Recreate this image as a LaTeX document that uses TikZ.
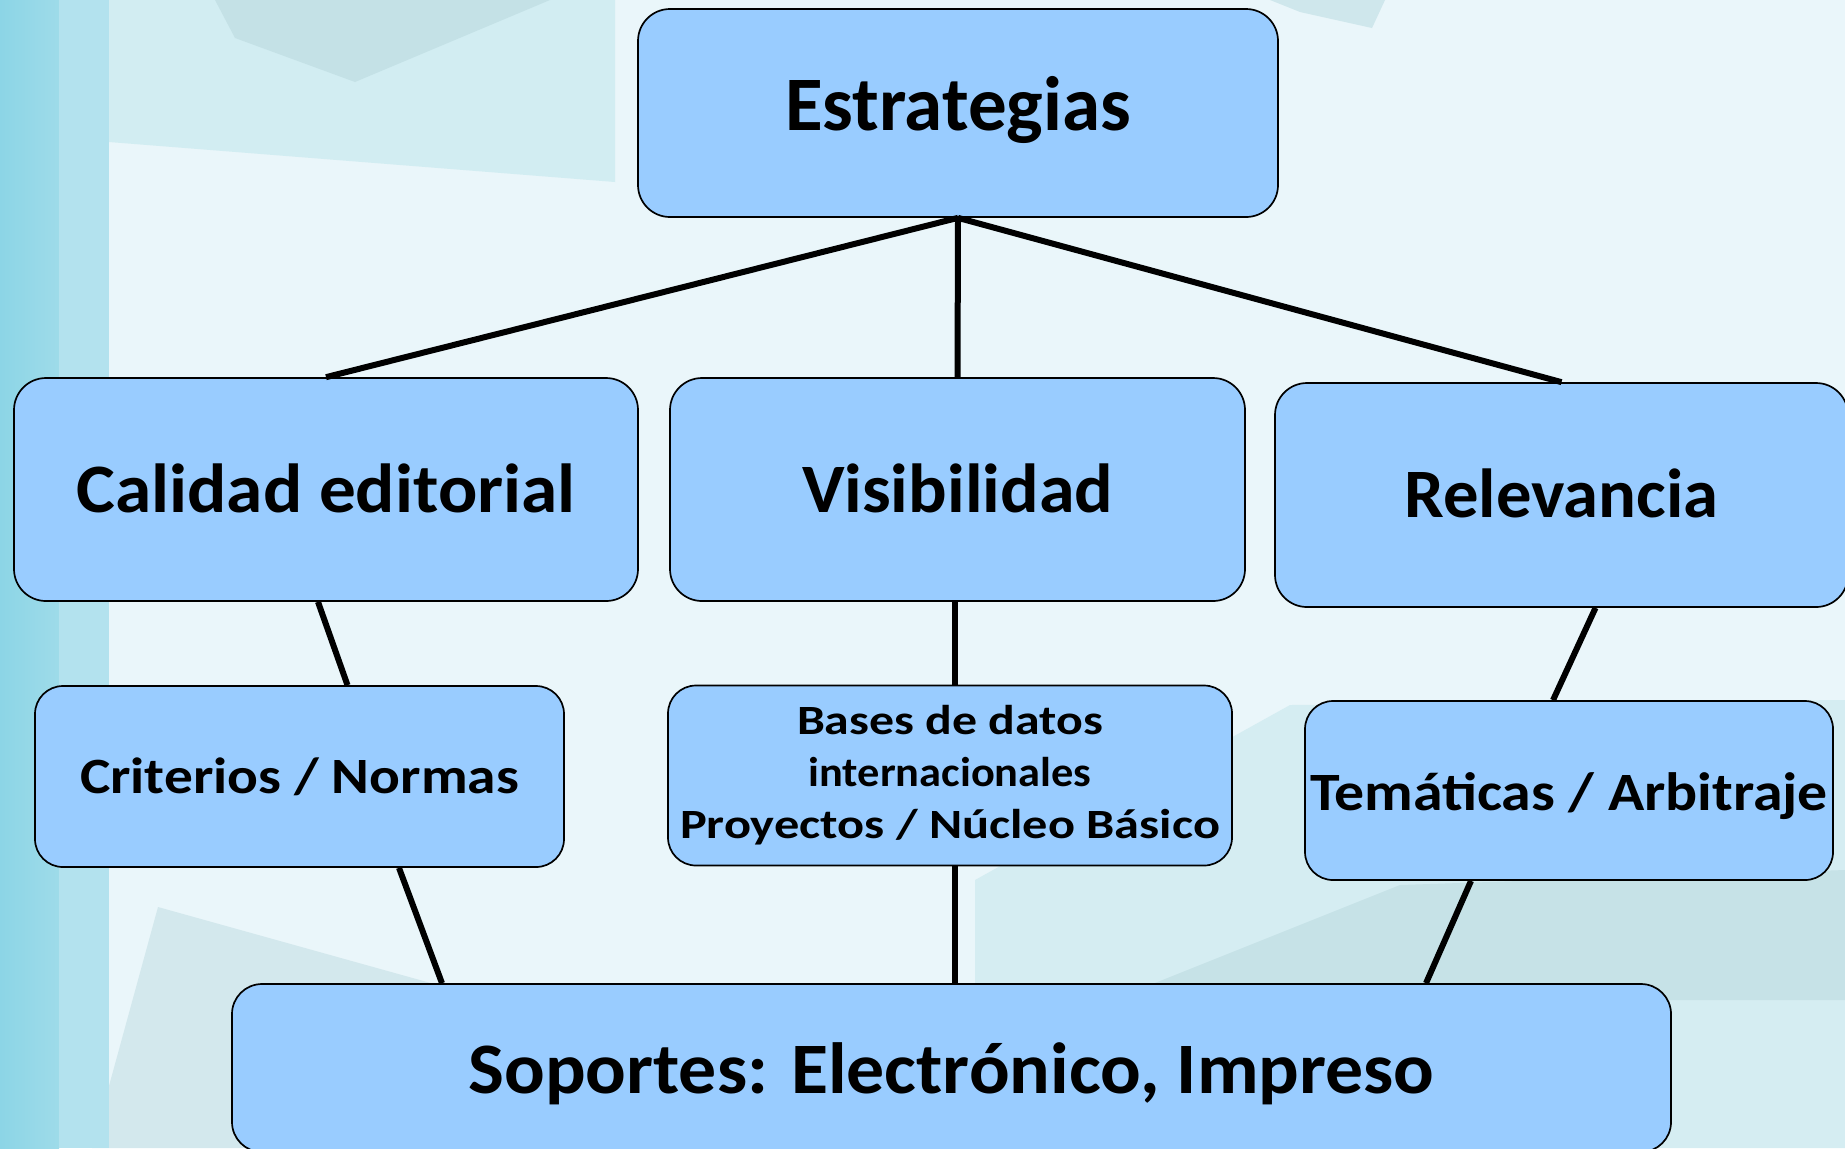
\documentclass[tikz,border=0pt]{standalone}
\usepackage{fontspec}
\usepackage{graphicx}
\setmainfont{Carlito}
\definecolor{boxblue}{HTML}{99CCFF}
\definecolor{bgpale}{HTML}{EAF6FA}
\definecolor{stripA}{HTML}{8CD5E6}
\definecolor{stripB}{HTML}{9EDBE9}
\definecolor{stripC}{HTML}{B3E2EE}
\definecolor{topband}{HTML}{D2EDF2}
\definecolor{topdark}{HTML}{C4E1E6}
\definecolor{blshape}{HTML}{D3E8ED}
\definecolor{brcyan}{HTML}{D5EDF2}
\definecolor{brdark}{HTML}{C6E2E7}
\newsavebox\fitbox
\newlength\fitwd
\newlength\fitcap
\newcommand\fittext[3]{%
  \sbox\fitbox{#3}%
  \setlength\fitwd{\wd\fitbox}%
  \setlength\fitcap{\fontcharht\font`E}%
  \pgfmathsetmacro\fitxs{(#1)/\fitwd}%
  \pgfmathsetmacro\fitys{(#2)/\fitcap}%
  \scalebox{\fitxs}[\fitys]{\usebox\fitbox}}
\begin{document}
\begin{tikzpicture}[x=0.5pt,y=-0.5pt,
  box/.style={draw=black,line width=0.85pt,fill=boxblue,inner sep=0pt,
    font=\bfseries\fontsize{20}{26}\selectfont},
  link/.style={line width=3pt,line cap=butt,black}]
\useasboundingbox (0,0) rectangle (1845,1148);
\clip (0,0) rectangle (1845,1148);
% background
\fill[bgpale] (0,0) rectangle (1845,1148);
\fill[topband] (109,0) -- (615,0) -- (615,182) -- (109,142) -- cycle;
\fill[topdark] (215,0) -- (550,0) -- (355,82) -- (235,38) -- cycle;
\fill[topdark!70!bgpale] (1270,0) -- (1385,0) -- (1372,28) -- (1300,12) -- cycle;
\fill[blshape] (158,907) -- (445,987) -- (445,1148) -- (92,1148) -- cycle;
\fill[brcyan] (975,880) -- (1290,705) -- (1845,700) -- (1845,1148) -- (975,1148) -- cycle;
\fill[brdark] (1150,985) -- (1400,885) -- (1845,870) -- (1845,1000) -- (1500,1000) -- cycle;
\shade[left color=stripA,right color=stripB] (0,0) rectangle (59,1148);
\fill[stripC] (59,0) rectangle (109,1148);
% boxes
\node[box,rounded corners=16pt,minimum width=320pt,minimum height=104pt,text height=17pt,text depth=0pt]
  (est) at (958,113) {\fittext{173pt}{25pt}{Estrategias}};
\node[box,rounded corners=16pt,minimum width=312pt,minimum height=111.5pt,text height=22.5pt,text depth=0pt]
  (cal) at (326,489.5) {\fittext{249.5pt}{22.5pt}{Calidad editorial}};
\node[box,rounded corners=16pt,minimum width=287.5pt,minimum height=111.5pt,text height=22.5pt,text depth=0pt]
  (vis) at (957.5,489.5) {\fittext{155.5pt}{22.5pt}{Visibilidad}};
\node[box,rounded corners=16pt,minimum width=286.5pt,minimum height=112pt,text height=22pt,text depth=0pt]
  (rel) at (1561.5,495) {\fittext{157pt}{22.5pt}{Relevancia}};
\node[box,rounded corners=14pt,minimum width=264.5pt,minimum height=90.5pt,text height=16.5pt,text depth=0pt]
  (cri) at (299.5,776.5) {\fittext{219.5pt}{16.5pt}{Criterios / Normas}};
\node[box,rounded corners=14pt,minimum width=282pt,minimum height=90pt,align=center]
  (bas) at (950,775.5) {\fittext{153pt}{13.5pt}{Bases de datos}\\
    \fittext{141.5pt}{13.5pt}{internacionales}\\
    \fittext{270pt}{13.5pt}{Proyectos / Núcleo Básico}};
\node[box,rounded corners=14pt,minimum width=264pt,minimum height=89.5pt,text height=19.5pt,text depth=0pt]
  (tem) at (1569,790.5) {\fittext{259pt}{17.5pt}{Temáticas / Arbitraje}};
\node[box,rounded corners=15pt,minimum width=719.5pt,minimum height=84pt,text height=25pt,text depth=0pt]
  (sop) at (951.5,1068) {\fittext{483pt}{23.5pt}{Soportes: Electrónico, Impreso}};
% connectors
\draw[link] (est.south) -- (cal.north);
\draw[link] (est.south) -- (vis.north);
\draw[link] (est.south) -- (rel.north);
\draw[link] ([xshift=-4pt]cal.south) -- ([xshift=24pt]cri.north);
\draw[link] ([xshift=-1.25pt]vis.south) -- ([xshift=2.5pt]bas.north);
\draw[link] ([xshift=17pt]rel.south) -- ([xshift=-8pt]tem.north);
\draw[link] ([xshift=49.75pt]cri.south) -- ([xshift=-254.75pt]sop.north);
\draw[link] ([xshift=2.5pt]bas.south) -- ([xshift=1.75pt]sop.north);
\draw[link] ([xshift=-49pt]tem.south) -- ([xshift=237.25pt]sop.north);
\end{tikzpicture}
\end{document}
